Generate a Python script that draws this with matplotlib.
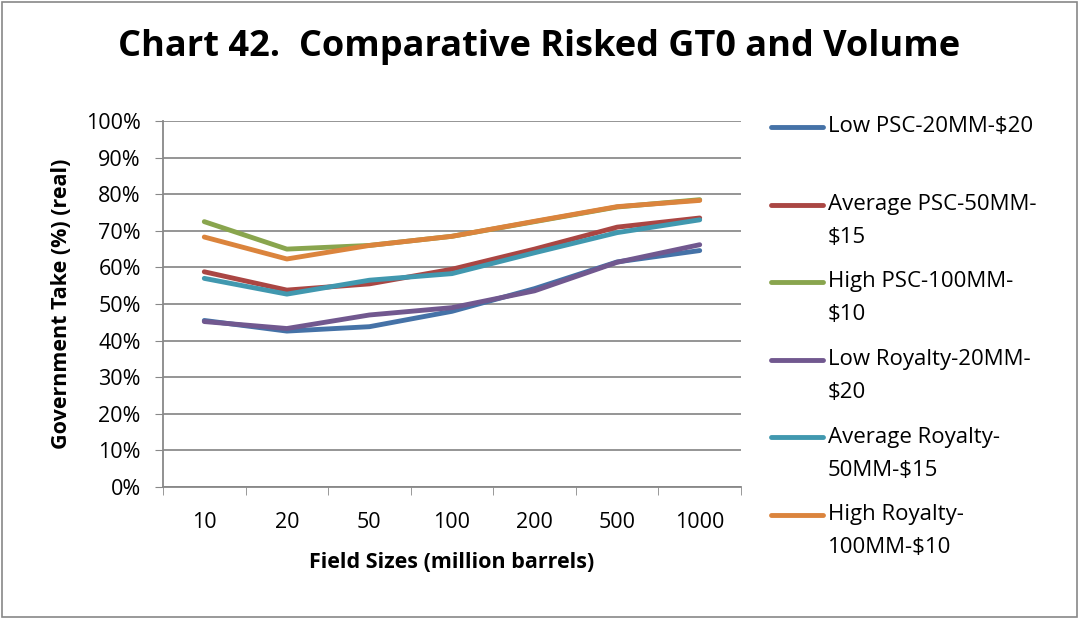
import matplotlib
matplotlib.use('Agg')
import matplotlib.pyplot as plt
from matplotlib.patches import Rectangle
from matplotlib.lines import Line2D

plt.rcParams['font.family'] = ['Open Sans', 'DejaVu Sans']

# data
field_sizes = ['10', '20', '50', '100', '200', '500', '1000']
low_psc = [45.5, 42.6, 43.8, 48.0, 54.2, 61.5, 64.6]
avg_psc = [58.8, 53.8, 55.5, 59.5, 65.0, 71.0, 73.5]
high_psc = [72.5, 65.0, 66.0, 68.5, 72.5, 76.5, 78.5]
low_roy = [45.2, 43.3, 47.0, 49.0, 53.6, 61.4, 66.2]
avg_roy = [57.0, 52.7, 56.5, 58.3, 64.0, 69.5, 73.0]
high_roy = [68.3, 62.3, 66.0, 68.5, 72.6, 76.6, 78.3]

series = [
    ('Low PSC-20MM-$20', low_psc, '#4572A7'),
    ('Average PSC-50MM-\n$15', avg_psc, '#AA4643'),
    ('High PSC-100MM-\n$10', high_psc, '#89A54E'),
    ('Low Royalty-20MM-\n$20', low_roy, '#71588F'),
    ('Average Royalty-\n50MM-$15', avg_roy, '#4198AF'),
    ('High Royalty-\n100MM-$10', high_roy, '#DB843D'),
]

W, H = 1079, 619
fig = plt.figure(figsize=(W / 100, H / 100), dpi=100)
fig.patches.append(Rectangle((2 / W, 2 / H), 1 - 4 / W, 1 - 4 / H, transform=fig.transFigure,
                             fill=False, edgecolor='#888888', linewidth=1.2))

ax = fig.add_axes([163 / W, 1 - 487 / H, (741 - 163) / W, (487 - 121) / H])
x = list(range(len(field_sizes)))
for name, vals, col in series:
    ax.plot(x, vals, color=col, linewidth=3.5, solid_capstyle='round')

ax.set_xlim(-0.5, len(field_sizes) - 0.5)
ax.set_ylim(0, 100)
ax.set_yticks(range(0, 101, 10))
ax.set_yticklabels([f'{v}%' for v in range(0, 101, 10)], fontsize=15.5)
ax.set_xticks(x)
ax.set_xticklabels(field_sizes, fontsize=15.5)
ax.set_xticks([i - 0.5 for i in range(len(field_sizes) + 1)], minor=True)
ax.tick_params(axis='x', which='major', length=0, pad=18)
ax.tick_params(axis='x', which='minor', length=6, color='#888888')
ax.tick_params(axis='y', length=6, color='#888888', pad=10)
ax.grid(axis='y', color='#8c8c8c', linewidth=1.3)
ax.set_axisbelow(True)
for s in ['top', 'right']:
    ax.spines[s].set_visible(False)
for s in ['left', 'bottom']:
    ax.spines[s].set_color('#888888')
    ax.spines[s].set_linewidth(1.3)

ax.set_ylabel('Government Take (%) (real)', fontsize=15.5, fontweight='bold', labelpad=10)
ax.set_xlabel('Field Sizes (million barrels)', fontsize=15.5, fontweight='bold', labelpad=14)

fig.text(0.5, 1 - 47 / H, 'Chart 42.  Comparative Risked GT0 and Volume',
         ha='center', va='center', fontsize=26, fontweight='bold')

# legend drawn by hand to match Excel spacing
for i, (name, vals, col) in enumerate(series):
    yp = 127 + i * 77.5
    fig.lines.append(Line2D([771 / W, 823 / W], [1 - yp / H, 1 - yp / H], transform=fig.transFigure,
                            color=col, linewidth=3.5, solid_capstyle='round'))
    for j, line in enumerate(name.split('\n')):
        fig.text(828 / W, 1 - (yp + j * 33) / H, line, ha='left', va='center', fontsize=16)

fig.savefig('out.png', dpi=100)
